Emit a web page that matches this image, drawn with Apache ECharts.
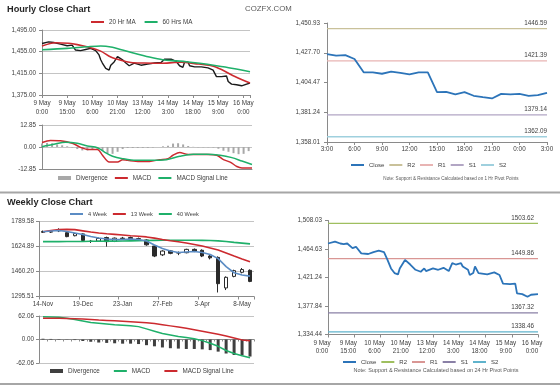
<!DOCTYPE html>
<html>
<head>
<meta charset="utf-8">
<script src="https://cdn.jsdelivr.net/npm/echarts@6/dist/echarts.min.js"></script>
<style>
html,body{margin:0;padding:0;background:#ffffff;}
#chart{width:560px;height:386px;}
</style>
</head>
<body>
<div id="chart"></div>
<script>
// ---------------- Hourly close chart (top left) ----------------
const hourlyTickLabels = ['9 May\n0:00','9 May\n15:00','10 May\n6:00','10 May\n21:00','13 May\n12:00','14 May\n3:00','14 May\n18:00','15 May\n9:00','16 May\n0:00'];
const hourlyYTicks = [1375, 1415, 1455, 1495];
const hourlyYLabels = ['1,375.00','1,415.00','1,455.00','1,495.00'];
const hourlyPriceHours = [0,4,7,11,15,18,20,23,26,29,32,34,35,36,38,40,41,43,45,48,50,52,55,59,63,67,71,73,77,80,82,84,85,87,88,91,95,99,102,103,104,107,110,111,113,116,119,122,124];
const hourlyPrice = [1470,1473,1472,1469,1466,1467,1458,1457,1459,1461,1457,1449,1440,1434,1424,1421,1430,1436,1446,1440,1434,1429,1434,1430,1432,1434,1435,1441,1441,1437,1429,1426,1436,1436,1429,1427,1427,1425,1421,1415,1409,1409,1410,1400,1395,1394,1392,1395,1397];
const ma20Hours = [0,8,16,21,28,35,41,47,53,61,71,79,83,91,101,107,115,124];
const ma20 = [1465.5,1471.6,1470.4,1468,1463,1456,1445,1439,1435,1434,1433.5,1435,1435.5,1433,1429,1422,1409,1397];
const ma60Hours = [0,15,27,35,42,48,55,64,72,80,86,94,104,113,124];
const ma60 = [1458.5,1461,1464,1465.5,1463,1458,1452,1445,1440,1438,1436.5,1433.5,1429,1424.5,1418];

// ---------------- Hourly MACD ----------------
const macdHYTicks = [-12.85, 0, 12.85];
const macdHYLabels = ['-12.85','0.00','12.85'];
const macdHHours = [0,5,11,18,23,27,33,36,40,45,48,51,58,64,70,75,78,82,86,92,99,104,108,112,116,119,125];
const macdH = [2.6,3.8,3.6,2.2,-0.2,-1.4,-1.4,-4.8,-8.8,-8.8,-7.4,-7.8,-8.4,-8.4,-7.4,-6.8,-4.8,-3.2,-4.2,-4.4,-4.4,-4.8,-7.4,-8.8,-11.4,-12.2,-12.2];
const signalHHours = [0,7,14,21,27,33,37,42,48,56,64,74,82,90,98,106,113,119,125];
const signalH = [0.2,1.6,2.8,2.2,0.6,-0.4,-2.8,-5.4,-6.8,-7.8,-7.8,-7.4,-5.4,-4.2,-4.2,-4.8,-6.2,-8.2,-10.2];
const divHHours = [0,3,6,9,12,15,18,21,24,27,30,33,36,39,42,45,48,51,54,57,60,63,66,69,72,75,78,81,84,87,90,93,96,99,102,105,108,111,114,117,120,123];
const divH = [2.0,2.4,2.2,1.5,1.0,0.4,-0.3,-1.2,-2.0,-2.0,-1.5,-1.0,-2.4,-3.8,-4.0,-2.8,-1.2,-0.6,-0.6,-0.6,-0.5,-0.5,-0.3,0.0,0.4,0.8,2.0,2.2,1.5,0.6,0.1,-0.2,-0.2,-0.2,-0.3,-1.0,-2.2,-2.8,-3.6,-4.2,-4.0,-2.4];

// ---------------- Hourly pivot chart (top right) ----------------
const trXLabels = ['3:00','6:00','9:00','12:00','15:00','18:00','21:00','0:00','3:00'];
const trYTicks = [1358.01, 1381.24, 1404.47, 1427.70, 1450.93];
const trYLabels = ['1,358.01','1,381.24','1,404.47','1,427.70','1,450.93'];
const trHours = [0,1,2,3,4,5,6,7,8,9,10,11,12,13,14,15,16,17,18,19,20,21,22,23,24];
const trClose = [1426.7,1425.4,1425.9,1422.8,1412.4,1412.4,1411.3,1412.9,1412.0,1410.8,1412.4,1412.4,1397.0,1397.2,1395.2,1397.0,1394.1,1393.0,1392.0,1395.6,1395.2,1395.6,1394.1,1394.6,1396.4];
const pivotNames = ['R2','R1','S1','S2'];
const pivotHourly = [1446.59, 1421.39, 1379.14, 1362.09];

// ---------------- Weekly close chart (bottom left) ----------------
const weekDates = ['14-Nov','21-Nov','28-Nov','5-Dec','12-Dec','19-Dec','26-Dec','2-Jan','9-Jan','16-Jan','23-Jan','30-Jan','6-Feb','13-Feb','20-Feb','27-Feb','6-Mar','13-Mar','20-Mar','27-Mar','3-Apr','10-Apr','17-Apr','24-Apr','1-May','8-May','15-May'];
const weeklyYTicks = [1295.51, 1460.20, 1624.89, 1789.58];
const weeklyYLabels = ['1295.51','1460.20','1624.89','1789.58'];
const wOpen  = [1718,1722,1728,1716,1696,1708,1660,1660,1684,1658,1676,1684,1674,1668,1628,1570,1596,1582,1584,1606,1600,1562,1553,1352,1428,1455,1468];
const wClose = [1724,1720,1731,1690,1710,1665,1658,1678,1657,1680,1680,1676,1677,1636,1562,1595,1580,1584,1606,1593,1562,1550,1380,1422,1466,1473,1395];
const wLow   = [1714,1714,1720,1686,1692,1660,1648,1655,1624,1654,1672,1670,1668,1630,1555,1562,1574,1568,1580,1588,1555,1540,1322,1338,1422,1448,1390];
const wHigh  = [1730,1728,1745,1720,1714,1712,1668,1684,1690,1684,1688,1690,1684,1672,1632,1600,1602,1592,1610,1612,1606,1568,1560,1428,1472,1483,1474];
const wk4  = [1722,1727,1730,1724,1714,1704,1691,1681,1674,1671,1671,1674,1671,1661,1635,1612,1595,1585,1589,1592,1585,1572,1545,1492,1452,1437,1430];
const wk13 = [1722,1730,1736,1738,1736,1728,1720,1714,1709,1705,1701,1696,1692,1688,1680,1671,1663,1656,1648,1638,1628,1615,1602,1582,1562,1543,1525];
const wk40 = [1657,1657,1657,1658,1658,1658,1659,1659,1660,1660,1661,1662,1663,1664,1665,1666,1666,1666,1666,1666,1665,1664,1662,1658,1652,1647,1642];

// ---------------- Weekly MACD ----------------
const macdWYTicks = [-62.06, 0, 62.06];
const macdWYLabels = ['-62.06','0.00','62.06'];
const macdW   = [60,59.5,58.5,56,53,49,45,43,41,39,37.5,36,34,28,22,16,12,8,5,2,-3,-10,-18,-29,-37,-43,-48];
const signalW = [56,56,56,55.5,55,54,53,51.5,50.5,49.5,48.5,47,45.5,44,42,39,36,33,29.5,26,22,18,14,9,4,-1,-3];
const divW    = [2,1.5,1,0.5,-1.5,-4,-6,-8,-9,-10,-11,-11,-12,-15,-18,-21,-23,-24,-25,-25,-26,-28,-32,-37,-41,-42,-45];

// ---------------- Daily pivot chart (bottom right) ----------------
const brYTicks = [1334.44, 1377.84, 1421.24, 1464.63, 1508.03];
const brYLabels = ['1,334.44','1,377.84','1,421.24','1,464.63','1,508.03'];
const brHours = [0,4,7,9,11,14,16,19,23,26,29,32,34,36,38,40,41,44,47,50,53,55,56,60,63,66,69,71,73,76,77,80,81,83,84,86,91,95,98,100,104,107,108,111,114,116,120];
const brClose = [1473,1476,1473,1472,1473,1466,1468,1458,1457,1460,1462,1460,1448,1435,1428,1426,1435,1448,1441,1433,1430,1435,1431,1435,1433,1436,1431,1443,1441,1443,1438,1433,1425,1428,1438,1428,1426,1429,1425,1412,1411,1412,1397,1396,1392,1395,1396];
const pivotDaily = [1503.62, 1449.86, 1367.32, 1338.46];

// ================= rendering =================
const FONT = '"Liberation Sans", Arial, sans-serif';
const AX = '#8a8a8a', GR = '#c4c4c4', TX = '#404040';
const RED = '#cc2a2f', GREEN = '#1fb06a', BLUE4 = '#5b8cc4', CLOSE = '#2c74b9';
const PIV_T = ['#c9c19a', '#e8b4b3', '#b2a6c4', '#9fd0de'];
const PIV_B = ['#9fbf5f', '#d99694', '#8a80a6', '#5fb3cc'];
const zip = (xs, ys) => xs.map((x, i) => [x, ys[i]]);

function yAxisFor(gi, ticks, labels, split, margin) {
  const min = ticks[0], max = ticks[ticks.length - 1];
  const interval = Math.round((max - min) / (ticks.length - 1) * 10000) / 10000;
  return {
    type: 'value', gridIndex: gi, min, max, interval, scale: true,
    axisLine: { show: true, lineStyle: { color: AX, width: 1 } },
    axisTick: { show: true, length: 3, lineStyle: { color: AX } },
    axisLabel: { fontSize: 6.3, color: TX, fontFamily: FONT, margin: margin, showMinLabel: true, showMaxLabel: true,
      formatter: v => { const k = Math.round((v - min) / interval); return labels[k] !== undefined ? labels[k] : ''; } },
    splitLine: { show: split, lineStyle: { color: GR, width: 1 } }
  };
}
function xValueAxis(gi, max, interval, labels, extra) {
  const ax = {
    type: 'value', gridIndex: gi, min: 0, max, interval,
    axisLine: { show: true, onZero: false, lineStyle: { color: AX, width: 1 } },
    axisTick: { show: !!labels, length: 3, lineStyle: { color: AX } },
    splitLine: { show: false },
    axisLabel: { show: !!labels, fontSize: 6.3, color: TX, fontFamily: FONT, margin: 4, lineHeight: 8.5,
      showMinLabel: true, showMaxLabel: true, hideOverlap: false,
      formatter: v => { const k = v / interval; return (labels && Math.abs(k - Math.round(k)) < 1e-6 && labels[Math.round(k)] !== undefined) ? labels[Math.round(k)] : ''; } }
  };
  if (extra) Object.assign(ax.axisLabel, extra);
  return ax;
}
function line(name, gi, data, color, width, smooth) {
  return { name, type: 'line', xAxisIndex: gi, yAxisIndex: gi, data, symbol: 'none', smooth: smooth || false,
    lineStyle: { color, width }, itemStyle: { color }, silent: true };
}
function pivotLines(gi, values, colors, xmax, suffix) {
  const out = [];
  values.forEach((v, i) => {
    out.push(line(pivotNames[i] + suffix, gi, [[0, v], [xmax, v]], colors[i], 1.3));
    out.push({ type: 'scatter', xAxisIndex: gi, yAxisIndex: gi, symbol: 'circle', symbolSize: 1, clip: false, silent: true,
      itemStyle: { color: 'rgba(255,255,255,0)' }, data: [[xmax, v]],
      label: { show: true, position: 'top', distance: 2, align: 'right', formatter: v.toFixed(2), fontSize: 6.3, color: TX, opacity: 1, fontFamily: FONT, offset: gi === 5 ? [-4, 0] : [0, 0] } });
  });
  return out;
}
const lineItem = n => ({ name: n, itemStyle: { opacity: 0 } });
function legendFor(left, top, items, gap, fontSize) {
  return { left, top, orient: 'horizontal', padding: 0, itemWidth: 13, itemHeight: 4, itemGap: gap, selectedMode: false,
    data: items.map(it => typeof it === 'string' ? lineItem(it) : it), formatter: n => n.split('#')[0],
    textStyle: { fontSize: fontSize || 6.3, color: TX, fontFamily: FONT } };
}

// x axis of the bottom-right panel: the labels sit 6px left of its ticks,
// so they are drawn by a label-only axis on a twin grid shifted left.
const brLabelAxis = xValueAxis(6, 120, 15, hourlyTickLabels, { margin: 4.5, lineHeight: 8 });
brLabelAxis.axisLine = { show: false };
brLabelAxis.axisTick = { show: false };
const brTickAxis = xValueAxis(5, 120, 15, hourlyTickLabels);
brTickAxis.axisLabel = { show: false };
brTickAxis.axisTick = { show: true, length: 3, lineStyle: { color: AX } };

const option = {
  animation: false,
  backgroundColor: '#ffffff',
  textStyle: { fontFamily: FONT },
  grid: [
    { left: 42, top: 30, width: 208, height: 65 },
    { left: 42, top: 125, width: 210, height: 44 },
    { left: 327, top: 23, width: 220, height: 119 },
    { left: 39, top: 221.5, width: 215, height: 75 },
    { left: 39, top: 316, width: 215, height: 47 },
    { left: 328, top: 220.5, width: 210, height: 114 },
    { left: 322, top: 220.5, width: 210, height: 114 }
  ],
  xAxis: [
    xValueAxis(0, 124, 15, hourlyTickLabels, { margin: 3.5, lineHeight: 9 }),
    Object.assign(xValueAxis(1, 125, 15, null), { axisTick: { show: false } }),
    xValueAxis(2, 24, 3, trXLabels, { margin: 3 }),
    { type: 'category', gridIndex: 3, data: weekDates, boundaryGap: true,
      axisLine: { lineStyle: { color: AX } },
      axisTick: { show: true, interval: 4, length: 3, lineStyle: { color: AX } },
      axisLabel: { interval: 4, fontSize: 6.3, color: TX, fontFamily: FONT, margin: 5 } },
    { type: 'category', gridIndex: 4, data: weekDates, boundaryGap: true,
      axisLine: { onZero: true, lineStyle: { color: AX } },
      axisTick: { show: true, interval: 0, length: 2, lineStyle: { color: AX } },
      axisLabel: { show: false } },
    brTickAxis,
    brLabelAxis
  ],
  yAxis: [
    yAxisFor(0, hourlyYTicks, hourlyYLabels, true, 6),
    yAxisFor(1, macdHYTicks, macdHYLabels, true, 6),
    yAxisFor(2, trYTicks, trYLabels, false, 7),
    yAxisFor(3, weeklyYTicks, weeklyYLabels, true, 5),
    yAxisFor(4, macdWYTicks, macdWYLabels, true, 5),
    yAxisFor(5, brYTicks, brYLabels, false, 6),
    { type: 'value', gridIndex: 6, show: false }
  ],
  legend: [
    legendFor(90, 19, ['20 Hr MA', '60 Hrs MA'], 8),
    legendFor(58, 175, [{ name: 'Divergence#h', icon: 'rect' }, 'MACD#h', 'MACD Signal Line#h'], 6),
    legendFor(350, 162, ['Close#t', 'R2#t', 'R1#t', 'S1#t', 'S2#t'], 4, 6),
    legendFor(69, 211, ['4 Week', '13 Week', '40 Week'], 5, 5.6),
    legendFor(50, 368, [{ name: 'Divergence#w', icon: 'rect' }, 'MACD#w', 'MACD Signal Line#w'], 13),
    legendFor(342, 359, ['Close#b', 'R2#b', 'R1#b', 'S1#b', 'S2#b'], 4, 6)
  ],
  graphic: [
    { type: 'text', x: 7, y: 9, style: { text: 'Hourly Close Chart', fontSize: 9.2, fontWeight: 'bold', fontFamily: FONT, fill: '#262626', align: 'left', verticalAlign: 'middle' } },
    { type: 'text', x: 245, y: 9, style: { text: 'COZFX.COM', fontSize: 7.8, fontFamily: FONT, fill: '#595959', align: 'left', verticalAlign: 'middle' } },
    { type: 'text', x: 451, y: 179, style: { text: 'Note: Support & Resistance Calculated based on 1 Hr Pivot Points', fontSize: 4.6, fontFamily: FONT, fill: '#595959', align: 'center', verticalAlign: 'middle' } },
    { type: 'line', shape: { x1: 0, y1: 192.5, x2: 560, y2: 192.5 }, style: { stroke: '#a6a6a6', lineWidth: 2 } },
    { type: 'text', x: 7, y: 202, style: { text: 'Weekly Close Chart', fontSize: 9.2, fontWeight: 'bold', fontFamily: FONT, fill: '#262626', align: 'left', verticalAlign: 'middle' } },
    { type: 'text', x: 436, y: 370, style: { text: 'Note: Support & Resistance Calculated based on 24 Hr Pivot Points', fontSize: 5.5, fontFamily: FONT, fill: '#595959', align: 'center', verticalAlign: 'middle' } },
    { type: 'line', shape: { x1: 0, y1: 384, x2: 560, y2: 384 }, style: { stroke: '#a6a6a6', lineWidth: 2 } }
  ],
  series: [
    // hourly price
    line('Price#h', 0, zip(hourlyPriceHours, hourlyPrice), '#1a1a1a', 1.4),
    line('20 Hr MA', 0, zip(ma20Hours, ma20), RED, 1.6, 0.3),
    line('60 Hrs MA', 0, zip(ma60Hours, ma60), GREEN, 1.6, 0.3),
    // hourly MACD
    { name: 'Divergence#h', type: 'bar', xAxisIndex: 1, yAxisIndex: 1, data: zip(divHHours, divH), barWidth: 2, itemStyle: { color: '#a8a8a8' }, silent: true },
    line('MACD#h', 1, zip(macdHHours, macdH), RED, 1.5, 0.3),
    line('MACD Signal Line#h', 1, zip(signalHHours, signalH), GREEN, 1.5, 0.3),
    // top right
    ...pivotLines(2, pivotHourly, PIV_T, 24, '#t'),
    line('Close#t', 2, zip(trHours, trClose), CLOSE, 1.8),
    // weekly
    { name: 'Candle#w', type: 'candlestick', xAxisIndex: 3, yAxisIndex: 3, barWidth: 4, silent: true,
      data: wOpen.map((o, i) => [o, wClose[i], wLow[i], wHigh[i]]),
      itemStyle: { color: '#ffffff', color0: '#2a2a2a', borderColor: '#2a2a2a', borderColor0: '#2a2a2a', borderWidth: 1 } },
    line('40 Week', 3, wk40, GREEN, 1.6),
    line('13 Week', 3, wk13, RED, 1.6),
    line('4 Week', 3, wk4, BLUE4, 1.6),
    // weekly MACD
    { name: 'Divergence#w', type: 'bar', xAxisIndex: 4, yAxisIndex: 4, data: divW, barWidth: 3, itemStyle: { color: '#3f3f3f' }, silent: true },
    line('MACD#w', 4, macdW, GREEN, 1.5),
    line('MACD Signal Line#w', 4, signalW, RED, 1.5),
    // bottom right
    ...pivotLines(5, pivotDaily, PIV_B, 120, '#b'),
    line('Close#b', 5, zip(brHours, brClose), CLOSE, 1.8)
  ]
};
const chart = echarts.init(document.getElementById('chart'), null, { renderer: 'canvas' });
chart.setOption(option);
</script>
</body>
</html>
